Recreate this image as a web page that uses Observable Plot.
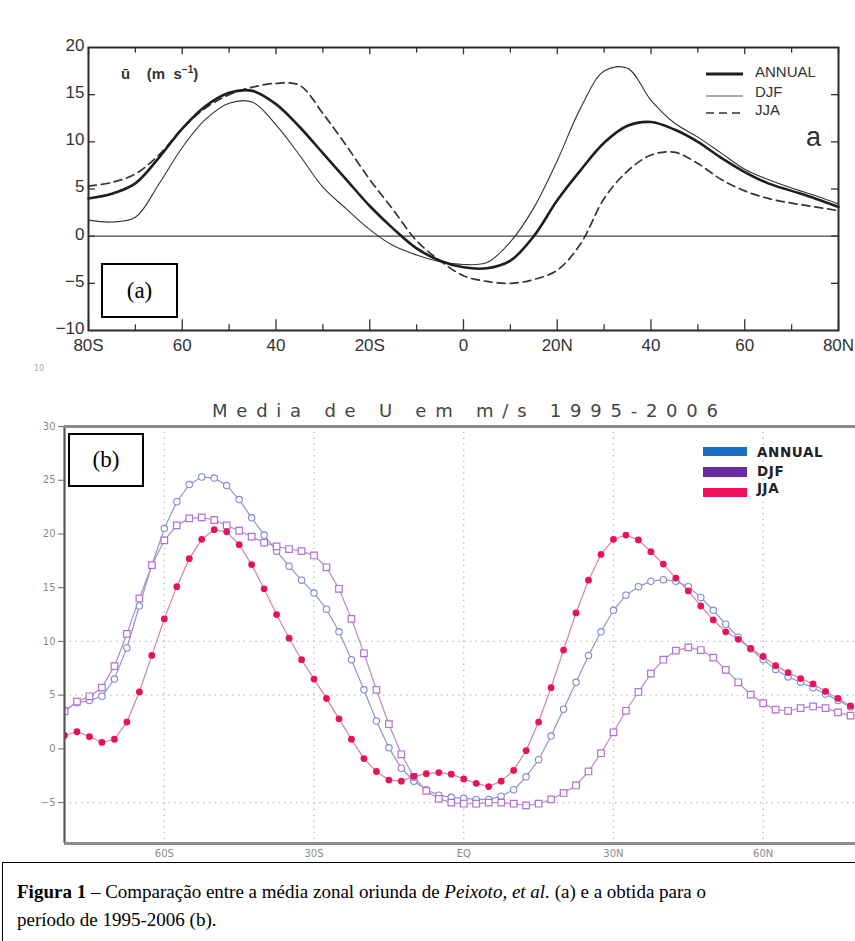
<!DOCTYPE html>
<html><head><meta charset="utf-8">
<script src="https://cdn.jsdelivr.net/npm/d3@7"></script>
<script src="https://cdn.jsdelivr.net/npm/@observablehq/plot@0.6"></script>
<style>
html,body{margin:0;padding:0;background:#fff;}
body{width:855px;height:941px;overflow:hidden;position:relative;}
.abs{position:absolute;}
.box{position:absolute;border:2px solid #000;background:#fff;font-family:"Liberation Serif",serif;font-size:23px;display:flex;align-items:center;justify-content:center;box-sizing:border-box;}
.legA{position:absolute;font-family:"Liberation Sans",sans-serif;font-size:15px;color:#333;line-height:15px;}
.legB{position:absolute;font-family:"DejaVu Sans",sans-serif;font-weight:bold;font-size:13.5px;letter-spacing:0.6px;color:#222;line-height:14px;}
</style></head><body>
<div id="chartA" class="abs" style="left:0;top:0"></div>
<div id="chartB" class="abs" style="left:0;top:420px"></div>
<script>
// ---------- Panel (a): Peixoto et al. ----------
const latA = [-80,-75,-70,-65,-60,-55,-50,-45,-40,-35,-30,-25,-20,-15,-10,-5,0,5,10,15,20,25,30,35,40,45,50,55,60,65,70,75,80];
const annualA = [4.0,4.5,5.6,8.3,11.4,13.8,15.2,15.4,14.0,11.6,8.8,6.0,3.2,0.8,-1.3,-2.6,-3.3,-3.4,-2.6,0.0,3.8,7.0,9.9,11.7,12.1,11.3,10.0,8.3,6.8,5.6,4.8,4.0,3.1];
const djfA = [1.7,1.5,2.0,5.5,9.4,12.4,14.1,14.2,11.8,8.6,5.2,2.9,0.7,-1.0,-2.0,-2.7,-3.0,-2.8,-0.6,3.0,8.0,13.6,17.5,17.8,14.4,12.0,10.5,8.8,7.1,6.0,5.1,4.3,3.4];
const jjaA = [5.3,5.7,6.6,8.6,11.4,13.6,15.0,15.8,16.2,16.0,13.0,9.6,6.0,2.8,-0.5,-2.6,-4.2,-4.8,-5.0,-4.6,-3.6,-0.8,4.0,6.9,8.6,8.9,7.7,6.0,4.8,4.0,3.5,3.1,2.7];
const xTicksA = [-80,-60,-40,-20,0,20,40,60,80];
const xLabelsA = ["80S","60","40","20S","0","20N","40","60","80N"];
const xMinorA = [-70,-50,-30,-10,10,30,50,70];
const yTicksA = [-10,-5,0,5,10,15,20];

// ---------- Panel (b): 1995-2006 ----------
const latB = [-80,-77.5,-75,-72.5,-70,-67.5,-65,-62.5,-60,-57.5,-55,-52.5,-50,-47.5,-45,-42.5,-40,-37.5,-35,-32.5,-30,-27.5,-25,-22.5,-20,-17.5,-15,-12.5,-10,-7.5,-5,-2.5,0,2.5,5,7.5,10,12.5,15,17.5,20,22.5,25,27.5,30,32.5,35,37.5,40,42.5,45,47.5,50,52.5,55,57.5,60,62.5,65,67.5,70,72.5,75,77.5];
const annualB = [3.6,4.3,4.5,4.9,6.5,9.4,13.3,17.1,20.5,23.0,24.6,25.3,25.2,24.5,23.2,21.5,19.9,18.4,17.0,15.7,14.5,13.0,10.9,8.3,5.5,2.6,0.1,-1.8,-3.0,-3.8,-4.3,-4.5,-4.6,-4.7,-4.7,-4.4,-3.8,-2.6,-1.0,1.2,3.7,6.2,8.7,10.9,12.9,14.3,15.1,15.6,15.75,15.6,15.1,14.1,12.9,11.6,10.4,9.3,8.3,7.4,6.7,6.2,5.7,5.1,4.5,3.9];
const djfB = [3.5,4.4,4.9,5.7,7.7,10.7,14.0,17.1,19.4,20.8,21.45,21.55,21.3,20.8,20.3,19.75,19.2,18.85,18.6,18.4,18.0,16.9,14.9,12.1,8.9,5.5,2.3,-0.5,-2.6,-3.9,-4.65,-5.0,-5.1,-5.1,-5.0,-5.0,-5.1,-5.25,-5.1,-4.7,-4.1,-3.4,-2.1,-0.4,1.55,3.55,5.3,7.0,8.3,9.15,9.45,9.2,8.5,7.35,6.2,5.05,4.25,3.65,3.55,3.8,3.95,3.8,3.4,3.1];
const jjaB = [1.25,1.6,1.15,0.6,0.9,2.5,5.3,8.7,12.1,15.1,17.7,19.5,20.4,20.2,19.0,17.15,14.9,12.5,10.3,8.3,6.5,4.7,2.8,0.9,-0.9,-2.1,-2.9,-3.0,-2.55,-2.3,-2.2,-2.35,-2.8,-3.2,-3.5,-3.0,-2.0,-0.15,2.5,5.7,9.2,12.65,15.7,18.1,19.5,19.9,19.45,18.35,17.2,15.9,14.7,13.3,12.0,10.9,10.2,9.35,8.6,7.75,7.1,6.55,6.05,5.35,4.7,4.0];
const xTicksB = [-60,-30,0,30,60];
const xLabelsB = ["60S","30S","EQ","30N","60N"];
const yTicksB = [-5,0,5,10,15,20,25,30];
const yGridB = [-5,5,10];
const yDomainB = [-8.8,30];
const xDomainB = [-80,78.5];

const tableA = latA.map((lat,i)=>({lat, annual:annualA[i], djf:djfA[i], jja:jjaA[i]}));
const tableB = latB.map((lat,i)=>({lat, annual:annualB[i], djf:djfB[i], jja:jjaB[i]}));

// inward tick lengths in data units
const tA_major = 1.15, tA_minor = 0.6, tA_y = 1.5;

const chartA = Plot.plot({
  width: 855, height: 375,
  marginLeft: 88, marginRight: 17, marginTop: 47, marginBottom: 45,
  x: {domain: [-80, 80], label: null},
  y: {domain: [-10, 20], label: null},
  style: {fontFamily: "Liberation Sans, sans-serif", fontSize: "17px", color: "#333", background: "transparent"},
  marks: [
    Plot.ruleY([0], {stroke: "#444", strokeWidth: 1.2}),
    Plot.ruleX(xTicksA, {x: d => d, y1: -10, y2: -10 + tA_major, stroke: "#333", strokeWidth: 1.3}),
    Plot.ruleX(xMinorA, {x: d => d, y1: -10, y2: -10 + tA_minor, stroke: "#333", strokeWidth: 1.3}),
    Plot.ruleX(xTicksA, {x: d => d, y1: 20, y2: 20 - tA_minor*1.3, stroke: "#333", strokeWidth: 1.3}),
    Plot.ruleX(xMinorA, {x: d => d, y1: 20, y2: 20 - tA_minor, stroke: "#333", strokeWidth: 1.3}),
    Plot.ruleY(yTicksA.slice(1, -1), {y: d => d, x1: -80, x2: -80 + tA_y, stroke: "#333", strokeWidth: 1.3}),
    Plot.ruleY(yTicksA.slice(1, -1), {y: d => d, x1: 80, x2: 80 - tA_y, stroke: "#333", strokeWidth: 1.3}),
    Plot.line(tableA, {x: "lat", y: "djf", curve: "catmull-rom", stroke: "#333", strokeWidth: 1.1}),
    Plot.line(tableA, {x: "lat", y: "jja", curve: "catmull-rom", stroke: "#333", strokeWidth: 1.7, strokeDasharray: "8,5"}),
    Plot.line(tableA, {x: "lat", y: "annual", curve: "catmull-rom", stroke: "#1e1e1e", strokeWidth: 2.6}),
    Plot.frame({stroke: "#2a2a2a", strokeWidth: 2}),
    Plot.axisY({ticks: yTicksA, tickSize: 0, tickPadding: 4, dy: -2, label: null}),
    Plot.axisX({ticks: xTicksA, tickFormat: d => xLabelsA[xTicksA.indexOf(d)], tickSize: 0, tickPadding: 8, label: null})
  ]
});
document.getElementById("chartA").append(chartA);

const chartB = Plot.plot({
  width: 855, height: 450,
  marginLeft: 64, marginRight: 0, marginTop: 6, marginBottom: 27,
  x: {domain: xDomainB, label: null},
  y: {domain: yDomainB, label: null},
  style: {fontFamily: "DejaVu Sans, sans-serif", fontSize: "10px", color: "#8a8a8a", background: "transparent"},
  marks: [
    Plot.ruleX(xTicksB, {stroke: "#b5b5b5", strokeWidth: 1.3, strokeDasharray: "1.3,4.5"}),
    Plot.ruleY(yGridB, {stroke: "#b5b5b5", strokeWidth: 1.3, strokeDasharray: "1.3,4.5"}),
    Plot.line(tableB, {x: "lat", y: "annual", stroke: "#8e96c8", strokeWidth: 1.2, clip: true}),
    Plot.line(tableB, {x: "lat", y: "djf", stroke: "#b48cc8", strokeWidth: 1.2, clip: true}),
    Plot.line(tableB, {x: "lat", y: "jja", stroke: "#d8809e", strokeWidth: 1.2, clip: true}),
    Plot.dot(tableB, {x: "lat", y: "annual", r: 3.2, fill: "white", stroke: "#7d8ad4", strokeWidth: 1.1, clip: true}),
    Plot.dot(tableB, {x: "lat", y: "djf", symbol: "square", r: 3.7, fill: "white", stroke: "#b070d8", strokeWidth: 1.2, clip: true}),
    Plot.dot(tableB, {x: "lat", y: "jja", r: 3.4, fill: "#e8125c", stroke: "none", clip: true}),
    Plot.ruleX([xDomainB[0]], {stroke: "#555", strokeWidth: 2.2}),
    Plot.ruleY([yDomainB[1]], {stroke: "#8c8c8c", strokeWidth: 3}),
    Plot.ruleY([yDomainB[0]], {stroke: "#8c8c8c", strokeWidth: 3}),
    Plot.axisY({ticks: yTicksB, tickSize: 6, tickPadding: 3, stroke: "#666", label: null}),
    Plot.axisX({ticks: xTicksB, tickFormat: d => xLabelsB[xTicksB.indexOf(d)], tickSize: 0, tickPadding: 6, label: null})
  ]
});
document.getElementById("chartB").append(chartB);
</script>

<!-- panel (a) annotations -->
<div class="abs" style="left:121px;top:64px;font-family:'Liberation Sans',sans-serif;font-size:15px;font-weight:bold;color:#333;">ū&nbsp;&nbsp;&nbsp;&nbsp;(m&nbsp;&nbsp;s<sup style="font-size:10px">−1</sup>)</div>
<div class="abs" style="left:806px;top:122px;font-family:'Liberation Sans',sans-serif;font-size:27px;color:#333;">a</div>
<svg class="abs" style="left:700px;top:62px" width="50" height="60">
  <line x1="6" x2="43" y1="12" y2="12" stroke="#1e1e1e" stroke-width="3"/>
  <line x1="6" x2="43" y1="34" y2="34" stroke="#555" stroke-width="1.1"/>
  <line x1="6" x2="43" y1="51" y2="51" stroke="#333" stroke-width="1.7" stroke-dasharray="8,5"/>
</svg>
<div class="legA" style="left:755px;top:64px">ANNUAL</div>
<div class="legA" style="left:755px;top:84px">DJF</div>
<div class="legA" style="left:755px;top:102px">JJA</div>
<div class="box" style="left:101px;top:263px;width:77px;height:55px;">(a)</div>

<!-- small tick-label fragment between the panels -->
<div class="abs" style="left:34px;top:364px;font-family:'DejaVu Sans',sans-serif;font-size:8px;line-height:9px;color:#aaa;">10</div>

<!-- panel (b) annotations -->
<svg class="abs" style="left:0;top:395px" width="855" height="30">
  <text x="465" y="22" text-anchor="middle" textLength="506" lengthAdjust="spacing" font-family="DejaVu Sans, sans-serif" font-size="18" fill="#444">Media de U em m/s 1995-2006</text>
</svg>
<div class="box" style="left:68px;top:433px;width:76px;height:54px;">(b)</div>
<svg class="abs" style="left:700px;top:444px" width="50" height="56">
  <rect x="3" y="3" width="44" height="9" fill="#1a6fc4"/>
  <rect x="3" y="23" width="44" height="10" fill="#6a2ca2"/>
  <rect x="3" y="44" width="44" height="9" fill="#f0105c"/>
</svg>
<div class="legB" style="left:757px;top:445px">ANNUAL</div>
<div class="legB" style="left:757px;top:464px">DJF</div>
<div class="legB" style="left:757px;top:481px">JJA</div>

<!-- caption -->
<div class="abs" style="left:2px;top:862px;width:870px;height:100px;border:1.5px solid #000;box-sizing:border-box;"></div>
<div class="abs" style="left:17px;top:878px;width:830px;font-family:'Liberation Serif',serif;font-size:19px;line-height:28px;color:#000;">
<b>Figura 1</b> – Comparação entre a média zonal oriunda de <i>Peixoto, et al.</i> (a) e a obtida para o<br>período de 1995-2006 (b).
</div>
</body></html>
